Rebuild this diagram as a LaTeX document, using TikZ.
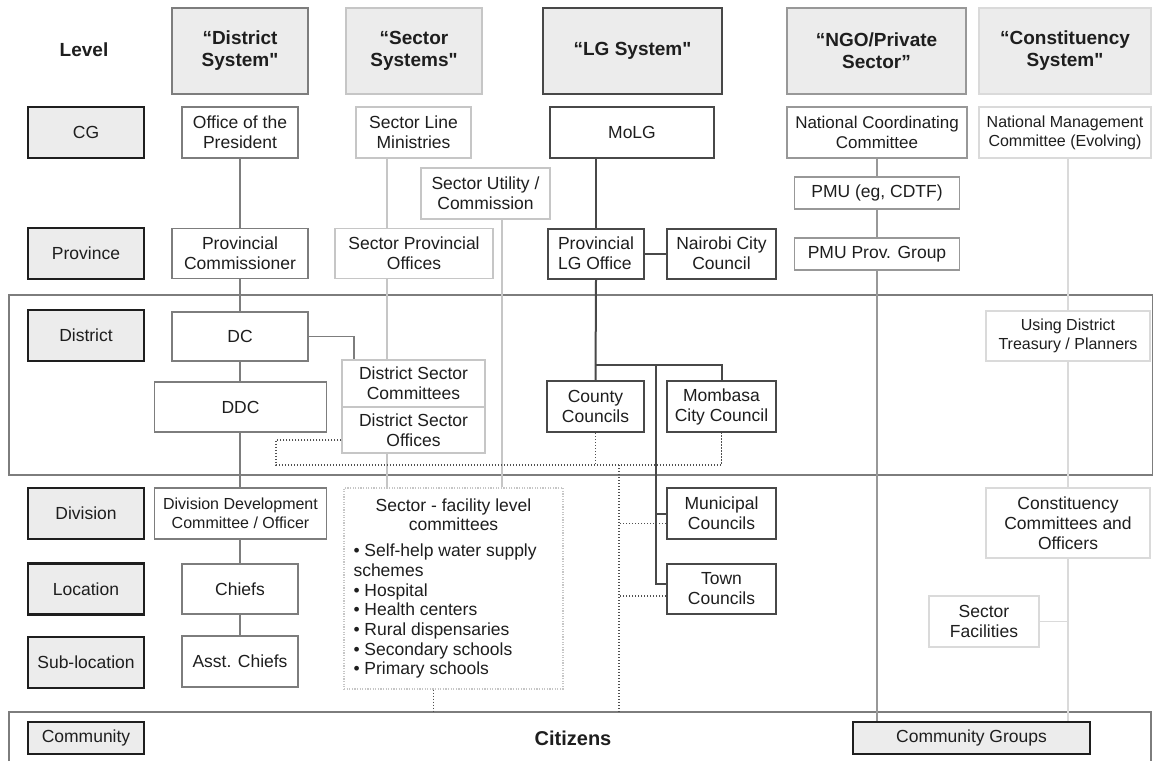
\documentclass[tikz,border=0pt]{standalone}
\usepackage{fontspec}
\setmainfont{Liberation Sans}[Ligatures=TeXOff]
\usepackage{tikz}
\usetikzlibrary{calc}

\definecolor{ink}{RGB}{30,30,30}
\definecolor{paleg}{RGB}{236,236,236}
\definecolor{midg}{RGB}{125,125,125}
\definecolor{lightg}{RGB}{198,198,198}
\definecolor{darkg}{RGB}{72,72,72}
\definecolor{ngog}{RGB}{152,152,152}
\definecolor{consg}{RGB}{218,218,218}
\definecolor{dotg}{RGB}{80,80,80}

\tikzset{
  boxtxt/.style={align=center, inner sep=0pt, text=ink, font=\fontsize{17.5}{20}\selectfont},
  smalltxt/.style={font=\fontsize{16}{19}\selectfont},
  lvl/.style={boxtxt, draw=ink, fill=paleg, line width=2.2pt, minimum width=116, minimum height=51},
  hdr/.style={boxtxt, fill=paleg, line width=2pt, minimum height=86, font=\fontsize{19}{22}\selectfont\bfseries},
  distbox/.style={boxtxt, draw=midg, fill=white, line width=1.6pt},
  sectbox/.style={boxtxt, draw=lightg, fill=white, line width=1.5pt},
  lgbox/.style={boxtxt, draw=darkg, fill=white, line width=2pt},
  ngobox/.style={boxtxt, draw=ngog, fill=white, line width=1.6pt},
  consbox/.style={boxtxt, draw=consg, fill=white, line width=1.3pt},
  band/.style={draw=midg, line width=1.6pt},
  distline/.style={draw=midg, line width=1.6pt},
  sectline/.style={draw=lightg, line width=1.5pt},
  lgline/.style={draw=darkg, line width=2pt},
  ngoline/.style={draw=ngog, line width=1.6pt},
  consline/.style={draw=consg, line width=1.4pt},
  dotln/.style={draw=dotg, line width=1.6pt, dash pattern=on 1.4pt off 1.6pt},
}

\begin{document}
\begin{tikzpicture}[x=1pt,y=1pt,yscale=-1,xscale=1]
\useasboundingbox (0,0) rectangle (1153,761);
%Shape: Rectangle -- district band
\draw[band] (9,295) rectangle (1153,475);
%Shape: community band
\draw[band, line width=2.2pt] (9,761) -- (9,712) -- (1151,712) -- (1151,761);
\coordinate (comtop) at (0,712);

%Header row
\node[boxtxt, font=\fontsize{19}{22}\selectfont\bfseries] (leveltitle) at (84,50) {Level};
\node[hdr, draw=midg, minimum width=136] (hdist) at (240,51) {“District\\System"};
\node[hdr, draw=lightg, minimum width=136] (hsect) at (414,51) {“Sector\\Systems"};
\node[hdr, draw=darkg, minimum width=179] (hlg) at (632.5,51) {“LG System"};
\node[hdr, draw=ngog, minimum width=179] (hngo) at (876.5,51) {“NGO/Private\\Sector”};
\node[hdr, draw=consg, minimum width=172] (hcon) at (1065,51) {“Constituency\\System"};

%Level column
\node[lvl] (lcg) at (86,132.5) {CG};
\node[lvl] (lprov) at (86,253.5) {Province};
\node[lvl] (ldist) at (86,335.5) {District};
\node[lvl] (ldiv) at (86,513.5) {Division};
\node[lvl] (lloc) at (86,589) {Location};
\node[lvl] (lsub) at (86,662.5) {Sub-location};
\node[lvl, minimum height=32] (lcom) at (86,738) {Community};

%District system
\node[distbox, minimum width=116, minimum height=51] (office) at (240,132.5) {Office of the\\President};
\node[distbox, minimum width=136, minimum height=50] (provcom) at (240,253.5) {Provincial\\Commissioner};
\node[distbox, minimum width=136, minimum height=49] (dc) at (240,336.5) {DC};
\node[distbox, minimum width=172, minimum height=50] (ddc) at (240.5,407) {DDC};
\node[distbox, smalltxt, minimum width=172, minimum height=51] (divdev) at (240.5,513.5) {Division Development\\Committee / Officer};
\node[distbox, minimum width=116, minimum height=50] (chiefs) at (240,589) {Chiefs};
\node[distbox, minimum width=116, minimum height=51] (asst) at (240,661.5) {Asst. Chiefs};

%Sector systems
\node[sectbox, minimum width=115, minimum height=51] (slm) at (413.5,132.5) {Sector Line\\Ministries};
\node[sectbox, minimum width=129, minimum height=51] (sutil) at (485.5,193.5) {Sector Utility /\\Commission};
\node[sectbox, minimum width=158, minimum height=50] (sprov) at (414,253.5) {Sector Provincial\\Offices};
\node[sectbox, minimum width=143, minimum height=47] (dsc) at (413.5,383.5) {District Sector\\Committees};
\node[sectbox, minimum width=143, minimum height=46] (dso) at (413.5,430) {District Sector\\Offices};
\node[boxtxt, draw=lightg, fill=white, line width=1.3pt, dash pattern=on 1.2pt off 1.4pt,
      minimum width=219, minimum height=201, text width=200, align=none,
      font=\fontsize{17.5}{19.7}\selectfont] (facility) at (453.5,588.5)
  {\noindent\centering Sector - facility level\\committees\par\vspace{6pt}
   \noindent\raggedright • Self-help water supply\\schemes\\• Hospital\\• Health centers\\• Rural dispensaries\\• Secondary schools\\• Primary schools\par};

%LG system
\node[lgbox, minimum width=164, minimum height=51] (molg) at (632,132.5) {MoLG};
\node[lgbox, align=left, minimum width=96, minimum height=50] (provlg) at (596,253.5) {Provincial\\LG Office};
\node[lgbox, minimum width=109, minimum height=50] (nairobi) at (721.5,253.5) {Nairobi City\\Council};
\node[lgbox, minimum width=97, minimum height=51] (county) at (595.5,406.5) {County\\Councils};
\node[lgbox, minimum width=109, minimum height=51] (mombasa) at (721.5,406.5) {Mombasa\\City Council};
\node[lgbox, minimum width=109, minimum height=51] (municipal) at (721.5,513.5) {Municipal\\Councils};
\node[lgbox, minimum width=109, minimum height=50] (town) at (721.5,589) {Town\\Councils};

%NGO / private sector
\node[ngobox, font=\fontsize{17}{20}\selectfont, minimum width=180, minimum height=51] (ncc) at (877,132.5) {National Coordinating\\Committee};
\node[ngobox, minimum width=165, minimum height=32] (pmu) at (877,193) {PMU (eg, CDTF)};
\node[ngobox, minimum width=165, minimum height=32] (pmuprov) at (877,254) {PMU Prov. Group};
\node[lvl, minimum width=237, minimum height=32] (cgroups) at (971.5,738) {Community Groups};

%Constituency system
\node[consbox, smalltxt, minimum width=172, minimum height=51] (nmc) at (1065,132.5) {National Management\\Committee (Evolving)};
\node[consbox, smalltxt, minimum width=164, minimum height=50] (treas) at (1068,336) {Using District\\Treasury / Planners};
\node[consbox, minimum width=164, minimum height=70] (concom) at (1068,523) {Constituency\\Committees and\\Officers};
\node[consbox, minimum width=110, minimum height=51] (sfac) at (984,621.5) {Sector\\Facilities};

\node[boxtxt, font=\fontsize{20}{22}\selectfont\bfseries] (citizens) at (573,738) {Citizens};

%Straight Lines -- district system
\draw[distline] (office) -- (provcom);
\draw[distline] (provcom) -- (dc);
\draw[distline] (dc.south) -- (dc.south |- ddc.north);
\draw[distline] (dc.south |- ddc.south) -- (dc.south |- divdev.north);
\draw[distline] (dc.south |- divdev.south) -- (chiefs.north);
\draw[distline] (chiefs) -- (asst);
\draw[distline] (dc.east) -| ($(dsc.north west)+(13,0)$);

%Straight Lines -- sector systems
\coordinate (sx) at (387,0);
\coordinate (ux) at (502,0);
\draw[sectline] (slm.south -| sx) -- (sprov.north -| sx);
\draw[sectline] (sprov.south -| sx) -- (dsc.north -| sx);
\draw[sectline] (dso.south -| sx) -- (facility.north -| sx);
\draw[sectline] (sutil.south -| ux) -- (facility.north -| ux);

%Straight Lines -- LG system
\coordinate (lgj) at (656,365);
\draw[lgline] (provlg.north |- molg.south) -- (provlg.north);
\draw[lgline] (provlg.east) -- (nairobi.west);
\draw[lgline] (provlg.south) -- (county.north);
\draw[lgline] (county.north |- lgj) -| (mombasa.north);
\draw[lgline] (lgj) |- ($(town.west)+(0,-5)$);
\draw[lgline] (lgj |- municipal.west) -- (municipal.west);

%Straight Lines -- NGO
\draw[ngoline] (ncc) -- (pmu);
\draw[ngoline] (pmu) -- (pmuprov);
\draw[ngoline] (pmuprov.south) -- (pmuprov.south |- cgroups.north);

%Straight Lines -- constituency
\draw[consline] (treas.north |- nmc.south) -- (treas.north);
\draw[consline] (treas.south) -- (concom.north);
\draw[consline] (concom.south) -- (concom.south |- cgroups.north);
\draw[consline] (sfac.east) -- (sfac.east -| treas.south);

%Dotted Lines
\coordinate (dotL) at (276,465);
\coordinate (dotM) at (619,465);
\draw[dotln] ($(dso.west)+(0,10)$) -| (dotL) -- (dotL -| mombasa.south) -- (mombasa.south);
\draw[dotln] (county.south) -- (county.south |- dotL);
\draw[dotln] (dotM) -- (dotM |- comtop);
\coordinate (mdot) at ($(municipal.west)+(0,10)$);
\coordinate (tdot) at ($(town.west)+(0,7)$);
\draw[dotln] (mdot) -- (mdot -| dotM);
\draw[dotln] (tdot) -- (tdot -| dotM);
\coordinate (fdot) at ($(facility.south)+(-20,0)$);
\draw[dotln] (fdot) -- (fdot |- comtop);
\end{tikzpicture}
\end{document}
